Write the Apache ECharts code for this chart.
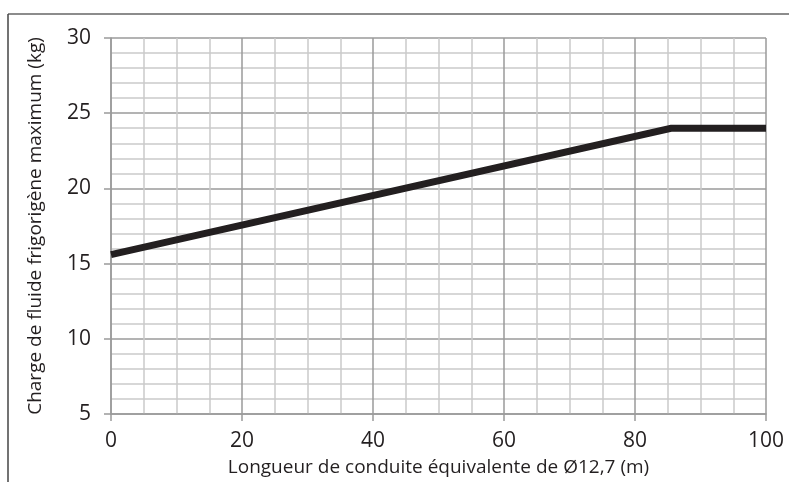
<!DOCTYPE html>
<html>
<head>
<meta charset="utf-8">
<script src="https://cdn.jsdelivr.net/npm/echarts@6/dist/echarts.min.js"></script>
<style>html,body{margin:0;padding:0;background:#fff}#c{width:789px;height:482px}</style>
</head>
<body>
<div id="c"></div>
<script>
var lengthX = [0, 85.5, 100];
var chargeY = [15.6, 24, 24];
var xTicks = [0, 20, 40, 60, 80, 100];
var yTicks = [5, 10, 15, 20, 25, 30];
var xName = 'Longueur de conduite équivalente de Ø12,7 (m)';
var yName = 'Charge de fluide frigorigène maximum (kg)';

var chart = echarts.init(document.getElementById('c'), null, {renderer: 'canvas'});
var font = '"Open Sans", "Noto Sans", sans-serif';
var txt = '#231f20';
chart.setOption({
  animation: false,
  backgroundColor: '#fff',
  grid: {left: 111, right: 23, top: 38, bottom: 67, containLabel: false},
  graphic: [
    {type: 'line', shape: {x1: 8, y1: 14, x2: 789, y2: 14}, style: {stroke: '#666', lineWidth: 1.5}},
    {type: 'line', shape: {x1: 8, y1: 14, x2: 8, y2: 482}, style: {stroke: '#444', lineWidth: 1.5}}
  ],
  xAxis: {
    type: 'value', min: xTicks[0], max: xTicks[xTicks.length - 1], interval: 20,
    name: xName, nameLocation: 'middle', nameGap: 44,
    nameTextStyle: {fontFamily: font, fontSize: 19, color: txt},
    axisLine: {show: true, lineStyle: {color: '#9a9a9a', width: 1.5}},
    axisTick: {show: true, length: 7, lineStyle: {color: '#9a9a9a', width: 1.5}},
    axisLabel: {fontFamily: font, fontSize: 21, color: txt, margin: 17},
    splitLine: {show: true, lineStyle: {color: '#9a9a9a', width: 1.5}},
    minorTick: {show: false, splitNumber: 4},
    minorSplitLine: {show: true, lineStyle: {color: '#cacaca', width: 1.5}}
  },
  yAxis: {
    type: 'value', min: yTicks[0], max: yTicks[yTicks.length - 1], interval: 5,
    name: yName, nameLocation: 'middle', nameGap: 66, nameRotate: 90,
    nameTextStyle: {fontFamily: font, fontSize: 19, color: txt},
    axisLine: {show: true, lineStyle: {color: '#9a9a9a', width: 1.5}},
    axisTick: {show: true, length: 7, lineStyle: {color: '#9a9a9a', width: 1.5}},
    axisLabel: {fontFamily: font, fontSize: 21, color: txt, margin: 20},
    splitLine: {show: true, lineStyle: {color: '#9a9a9a', width: 1.5}},
    minorTick: {show: false, splitNumber: 5},
    minorSplitLine: {show: true, lineStyle: {color: '#cacaca', width: 1.5}}
  },
  series: [{
    type: 'line',
    data: lengthX.map(function (x, i) { return [x, chargeY[i]]; }),
    showSymbol: false, symbol: 'none',
    lineStyle: {color: '#231f20', width: 7, cap: 'butt', join: 'miter'}
  }]
});
</script>
</body>
</html>
